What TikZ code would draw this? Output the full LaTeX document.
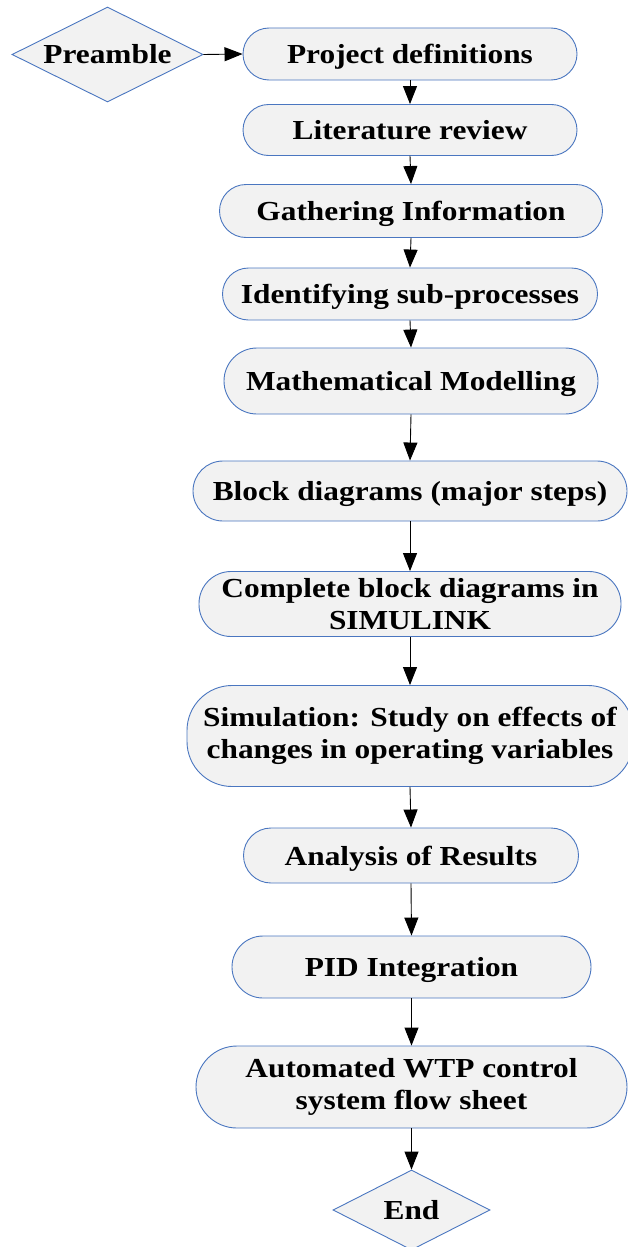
\documentclass[tikz,border=0pt]{standalone}
\usepackage{fontspec}
\setmainfont{Liberation Serif}[FakeStretch=1.14]
\usetikzlibrary{shapes.geometric,arrows.meta}
\definecolor{boxfill}{HTML}{F2F2F2}
\definecolor{boxline}{HTML}{4A76C0}
\tikzset{
  stepbox/.style={draw=boxline, fill=boxfill, line width=0.9pt, rectangle,
    inner sep=0pt, align=center, font=\fontsize{27.5}{32}\selectfont\bfseries},
  oneline/.style={stepbox, text depth=0pt},
  dia/.style={draw=boxline, fill=boxfill, line width=0.9pt, diamond, inner sep=0pt,
    label={[font=\fontsize{27.5}{32}\selectfont\bfseries]center:#1}},
  flow/.style={draw=black, line width=0.9pt, -{Triangle[length=18pt,width=14pt]}}
}
\begin{document}
\begin{tikzpicture}[x=1pt,y=-1pt]
\useasboundingbox (0,0) rectangle (628,1247);
\node[dia=Preamble, minimum width=191pt, minimum height=95pt] (pre) at (107.5,54.5) {};
\node[oneline, minimum width=334pt, minimum height=52pt, rounded corners=26pt] (proj) at (410,54) {Project definitions};
\node[oneline, minimum width=334pt, minimum height=51pt, rounded corners=25.5pt] (lit) at (410,130) {Literature review};
\node[oneline, minimum width=383pt, minimum height=53pt, rounded corners=26.5pt] (gath) at (411,211) {Gathering Information};
\node[oneline, minimum width=375pt, minimum height=52pt, rounded corners=26pt] (ident) at (410,294) {Identifying sub-processes};
\node[oneline, minimum width=374pt, minimum height=66pt, rounded corners=33pt] (math) at (411,381) {Mathematical Modelling};
\node[oneline, minimum width=434pt, minimum height=60pt, rounded corners=30pt] (block) at (410,491) {Block diagrams (major steps)};
\node[stepbox, minimum width=422pt, minimum height=65pt, rounded corners=32pt] (compl) at (410,604) {Complete block diagrams in\\SIMULINK};
\node[stepbox, minimum width=446pt, minimum height=101pt, rounded corners=45pt] (sim) at (410,736) {Simulation: Study on effects of\\changes in operating variables};
\node[oneline, minimum width=335pt, minimum height=55pt, rounded corners=27.5pt] (anal) at (411,855.5) {Analysis of Results};
\node[oneline, minimum width=359pt, minimum height=62pt, rounded corners=31pt] (pid) at (411.5,967) {PID Integration};
\node[stepbox, minimum width=431pt, minimum height=82pt, rounded corners=41pt] (auto) at (411.5,1087) {Automated WTP control\\system flow sheet};
\node[dia=End, minimum width=157pt, minimum height=80pt] (end) at (411.5,1210) {};
\draw[flow] (pre.east) -- (proj.west);
\draw[flow] (proj.south) -- (lit.north);
\draw[flow] (lit.south) -- (gath.north);
\draw[flow] (gath.south) -- (ident.north);
\draw[flow] (ident.south) -- (math.north);
\draw[flow] (math.south) -- (block.north);
\draw[flow] (block.south) -- (compl.north);
\draw[flow] (compl.south) -- (sim.north);
\draw[flow] (sim.south) -- (anal.north);
\draw[flow] (anal.south) -- (pid.north);
\draw[flow] (pid.south) -- (auto.north);
\draw[flow] (auto.south) -- (end.north);
\end{tikzpicture}
\end{document}
